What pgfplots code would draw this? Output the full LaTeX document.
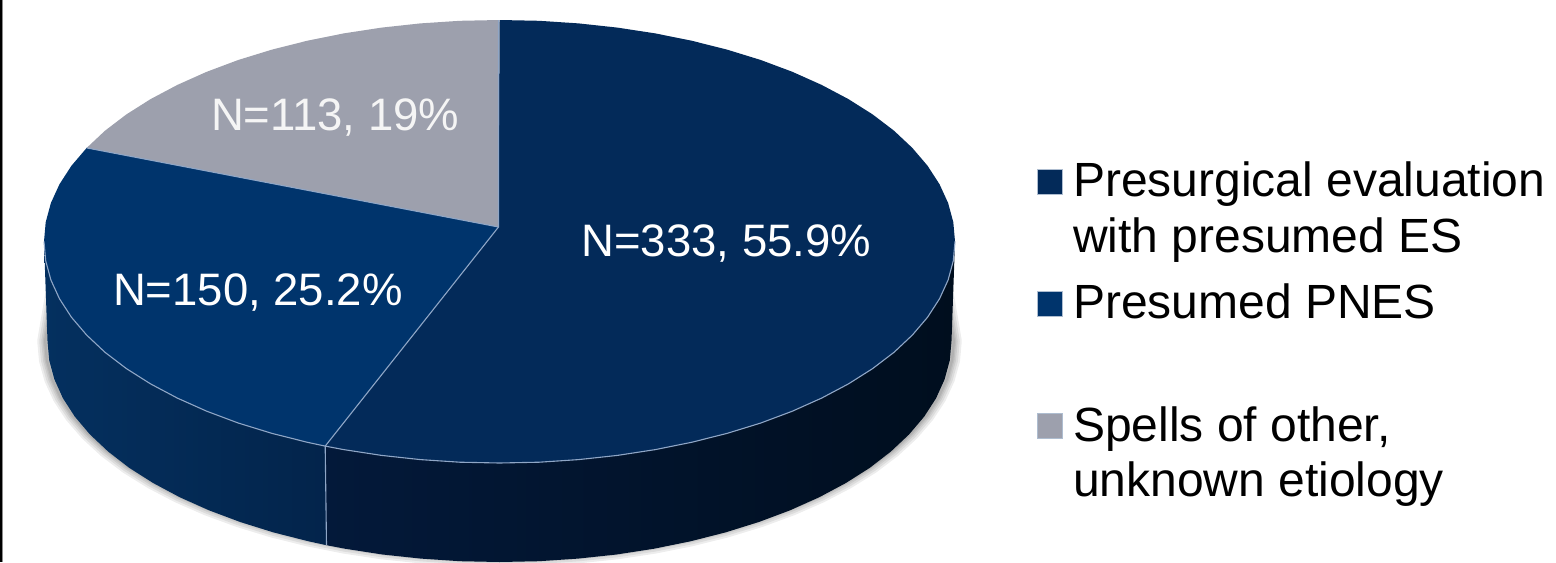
\documentclass[border=0pt]{standalone}
\usepackage{pgfplots}
\usepackage{pgfplotstable}
\usepackage{fontspec}
\pgfplotsset{compat=1.18}
\setmainfont{Liberation Sans}
\definecolor{sliceES}{HTML}{032A59}
\definecolor{slicePNES}{HTML}{00346C}
\definecolor{sliceOther}{HTML}{9DA0AD}
\definecolor{seam}{HTML}{8FA6C6}
\definecolor{swatchEdge}{HTML}{AEBDD0}
\definecolor{rimA}{HTML}{04305F}
\definecolor{rimB}{HTML}{03244B}
\definecolor{rimC}{HTML}{03193A}
\definecolor{rimD}{HTML}{000E1E}

% Counts per slice: presurgical 333 (55.9%), presumed PNES 150 (25.2%), other 113 (19%).
% Pie top face, largest slice, clockwise from twelve o'clock (pixel coordinates).
\pgfplotstableread{
x y
498.5 227.0
499.5 20.0
539.2 20.8
578.6 23.4
617.4 27.6
655.3 33.4
692.0 40.8
727.3 49.7
760.8 60.0
792.3 71.8
821.6 84.9
848.4 99.1
872.6 114.4
894.0 130.7
912.3 147.9
927.5 165.7
939.5 184.2
948.1 203.0
953.3 222.2
955.0 241.5
953.3 260.8
948.1 280.0
939.5 298.8
927.5 317.3
912.3 335.1
894.0 352.3
872.6 368.6
848.4 383.9
821.6 398.1
792.3 411.2
760.8 423.0
727.3 433.3
692.0 442.2
655.3 449.6
617.4 455.4
578.6 459.6
539.2 462.2
499.5 463.0
459.8 462.2
420.4 459.6
381.6 455.4
343.7 449.6
325.2 446.1
498.5 227.0
}\sliceEStop

% Top face, presumed PNES slice.
\pgfplotstableread{
x y
498.5 227.0
325.2 446.1
307.0 442.2
271.7 433.3
238.2 423.0
206.7 411.2
177.4 398.1
150.6 383.9
126.4 368.6
105.0 352.3
86.7 335.1
71.5 317.3
59.5 298.8
50.9 280.0
45.7 260.8
44.0 241.5
45.7 222.2
50.9 203.0
59.5 184.2
71.5 165.7
86.7 147.9
498.5 227.0
}\slicePNEStop

% Top face, remaining slice.
\pgfplotstableread{
x y
498.5 227.0
86.7 147.9
105.0 130.7
126.4 114.4
150.6 99.1
177.4 84.9
206.7 71.8
238.2 60.0
271.7 49.7
307.0 40.8
343.7 33.4
381.6 27.6
420.4 23.4
459.8 20.8
499.5 20.0
498.5 227.0
}\sliceOthertop

% Rim of the largest slice.
\pgfplotstableread{
x y
955.0 241.5
951.5 341.0
949.8 360.3
944.6 379.4
936.1 398.2
924.2 416.6
909.1 434.4
890.9 451.5
869.8 467.8
845.7 483.1
819.1 497.3
790.0 510.3
758.8 522.0
725.5 532.4
690.5 541.3
654.1 548.7
616.5 554.5
578.0 558.6
538.9 561.2
499.5 562.0
460.1 561.2
421.0 558.6
382.5 554.5
344.9 548.7
326.5 545.2
325.2 446.1
343.7 449.6
381.6 455.4
420.4 459.6
459.8 462.2
499.5 463.0
539.2 462.2
578.6 459.6
617.4 455.4
655.3 449.6
692.0 442.2
727.3 433.3
760.8 423.0
792.3 411.2
821.6 398.1
848.4 383.9
872.6 368.6
894.0 352.3
912.3 335.1
927.5 317.3
939.5 298.8
948.1 280.0
953.3 260.8
955.0 241.5
}\sliceESrim

% Rim of the presumed PNES slice.
\pgfplotstableread{
x y
326.5 545.2
308.5 541.3
273.5 532.4
240.2 522.0
209.0 510.3
179.9 497.3
153.3 483.1
129.2 467.8
108.1 451.5
89.9 434.4
74.8 416.6
62.9 398.2
54.4 379.4
49.2 360.3
47.5 341.0
44.0 241.5
45.7 260.8
50.9 280.0
59.5 298.8
71.5 317.3
86.7 335.1
105.0 352.3
126.4 368.6
150.6 383.9
177.4 398.1
206.7 411.2
238.2 423.0
271.7 433.3
307.0 442.2
325.2 446.1
326.5 545.2
}\slicePNESrim

% Lower edge of the rim, the base of the soft shadow; its ends taper in behind the disc.
\pgfplotstableread{
x y
940.0 272.0
951.5 341.0
949.8 360.3
944.6 379.4
936.1 398.2
924.2 416.6
909.1 434.4
890.9 451.5
869.8 467.8
845.7 483.1
819.1 497.3
790.0 510.3
758.8 522.0
725.5 532.4
690.5 541.3
654.1 548.7
616.5 554.5
578.0 558.6
538.9 561.2
499.5 562.0
460.1 561.2
421.0 558.6
382.5 554.5
344.9 548.7
308.5 541.3
273.5 532.4
240.2 522.0
209.0 510.3
179.9 497.3
153.3 483.1
129.2 467.8
108.1 451.5
89.9 434.4
74.8 416.6
62.9 398.2
54.4 379.4
49.2 360.3
47.5 341.0
59.0 272.0
}\rimbase

% Front edge of the top face, drawn as a thin light seam.
\pgfplotstableread{
x y
955.0 241.5
953.3 260.8
948.1 280.0
939.5 298.8
927.5 317.3
912.3 335.1
894.0 352.3
872.6 368.6
848.4 383.9
821.6 398.1
792.3 411.2
760.8 423.0
727.3 433.3
692.0 442.2
655.3 449.6
617.4 455.4
578.6 459.6
539.2 462.2
499.5 463.0
459.8 462.2
420.4 459.6
381.6 455.4
343.7 449.6
325.2 446.1
307.0 442.2
271.7 433.3
238.2 423.0
206.7 411.2
177.4 398.1
150.6 383.9
126.4 368.6
105.0 352.3
86.7 335.1
71.5 317.3
59.5 298.8
50.9 280.0
45.7 260.8
44.0 241.5
}\frontedge

\tikzset{
  legendtext/.style={anchor=base west, inner sep=0pt, outer sep=0pt, font=\fontsize{24}{28}\selectfont},
  slicetext/.style={anchor=base west, inner sep=0pt, outer sep=0pt, font=\fontsize{22.75}{27}\selectfont, text=white},
}

\begin{document}
\begin{tikzpicture}
\useasboundingbox (0,0) rectangle (778pt,281pt);
\begin{axis}[
    scale only axis, width=778pt, height=281pt,
    xmin=0, xmax=1556, ymin=0, ymax=562, y dir=reverse,
    hide axis, clip=true,
]
% soft shadow beneath the disc
\pgfplotsinvokeforeach{8,6,4,2.4,1.2}{
  \addplot[draw=black, opacity=0.07, line width=#1pt, mark=none, line join=round, line cap=round]
    table[x expr={499.5+(\thisrowno{0}-499.5)*1.005}, y expr={341+(\thisrowno{1}-341)*0.985}] {\rimbase};
}
% rim
\addplot[draw=none, left color=rimA, right color=rimB, mark=none] table {\slicePNESrim};
\addplot[draw=none, left color=rimC, right color=rimD, mark=none] table {\sliceESrim};
% top face
\addplot[fill=sliceES, draw=none, mark=none] table {\sliceEStop};
\addplot[fill=slicePNES, draw=none, mark=none] table {\slicePNEStop};
\addplot[fill=sliceOther, draw=none, mark=none] table {\sliceOthertop};
% seams between slices and around the front edge
\addplot[seam, line width=0.55pt, mark=none] table {\frontedge};
\addplot[seam, line width=0.55pt, mark=none] coordinates {(498.5,20) (498.5,227) (325.2,446.1) (326.5,545.2)};
\addplot[seam, line width=0.55pt, mark=none] coordinates {(86.7,147.9) (498.5,227)};
% frame line at the left edge
\addplot[black, line width=0.8pt, mark=none] coordinates {(0.8,0) (0.8,562)};
\addplot[black!45, line width=0.4pt, mark=none] coordinates {(2.4,0) (2.4,562)};
% legend swatches
\addplot[only marks, mark=square*, mark size=6.2pt, mark options={fill=sliceES, draw=swatchEdge, line width=0.5pt}] coordinates {(1050.3,181.8)};
\addplot[only marks, mark=square*, mark size=6.2pt, mark options={fill=slicePNES, draw=swatchEdge, line width=0.5pt}] coordinates {(1050.3,304)};
\addplot[only marks, mark=square*, mark size=6.2pt, mark options={fill=sliceOther, draw=swatchEdge, line width=0.5pt}] coordinates {(1050.3,426)};
% legend text
\node[legendtext] at (axis cs:1073,196.7) {Presurgical evaluation};
\node[legendtext] at (axis cs:1073,252.3) {with presumed ES};
\node[legendtext] at (axis cs:1073,318.3) {Presumed PNES};
\node[legendtext] at (axis cs:1073,441.7) {Spells of other,};
\node[legendtext] at (axis cs:1073,496.7) {unknown etiology};
% slice labels
\node[slicetext] at (axis cs:581.5,256) {N=333, 55.9\%};
\node[slicetext] at (axis cs:113,305) {N=150, 25.2\%};
\node[slicetext, text=white!96!black] at (axis cs:211,130) {N=113, 19\%};
\end{axis}
\end{tikzpicture}
\end{document}
